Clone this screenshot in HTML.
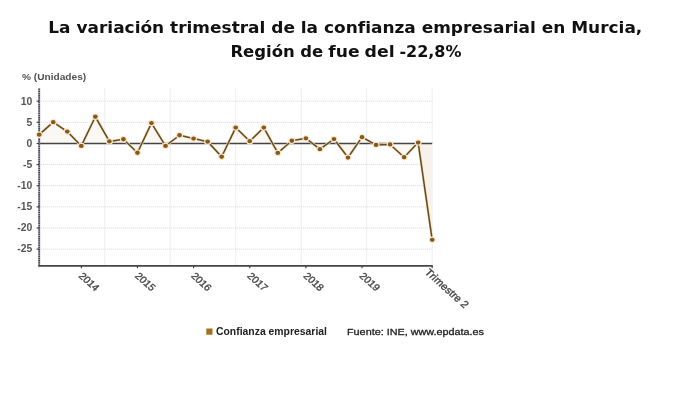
<!DOCTYPE html>
<html lang="es"><head><meta charset="utf-8"><title>Confianza empresarial</title>
<style>
html,body{margin:0;padding:0;background:#fff;}
body{width:690px;height:406px;overflow:hidden;position:relative;font-family:"Liberation Sans",sans-serif;}
svg{position:absolute;left:0;top:0;display:block}
text{font-family:"Liberation Sans",sans-serif;}
.title{font-family:"DejaVu Sans","Liberation Sans",sans-serif;font-weight:bold;font-size:15.8px;fill:#111;}
.yl{font-size:10px;fill:#565656;font-weight:bold}
.xl{font-size:9.6px;fill:#444;stroke:#444;stroke-width:0.33px}
.unit{font-size:9.9px;fill:#525252;font-weight:bold}
.leg{font-size:10px;fill:#222;font-weight:bold}
.src{font-size:9.9px;fill:#222;stroke:#222;stroke-width:0.3px}
</style></head><body>
<svg width="690" height="406" viewBox="0 0 690 406">
<rect width="690" height="406" fill="#fff"/>

<text class="title" x="48.3" y="32.6" textLength="594" lengthAdjust="spacingAndGlyphs">La variación trimestral de la confianza empresarial en Murcia,</text>
<text class="title" y="57.0"><tspan x="230.4" textLength="64.4" lengthAdjust="spacingAndGlyphs">Región</tspan> <tspan x="300.3" textLength="22.9" lengthAdjust="spacingAndGlyphs">de</tspan> <tspan x="328.3" textLength="31.3" lengthAdjust="spacingAndGlyphs">fue</tspan> <tspan x="364.6" textLength="30" lengthAdjust="spacingAndGlyphs">del</tspan> <tspan x="399.4" textLength="62.1" lengthAdjust="spacingAndGlyphs">-22,8%</tspan></text>
<text class="unit" x="22" y="79.6" textLength="64.2" lengthAdjust="spacingAndGlyphs">% (Unidades)</text>
<line x1="104.7" y1="88.5" x2="104.7" y2="265.8" stroke="#dcdce1" stroke-width="1" stroke-dasharray="1,1"/>
<line x1="170.2" y1="88.5" x2="170.2" y2="265.8" stroke="#dcdce1" stroke-width="1" stroke-dasharray="1,1"/>
<line x1="235.7" y1="88.5" x2="235.7" y2="265.8" stroke="#dcdce1" stroke-width="1" stroke-dasharray="1,1"/>
<line x1="301.2" y1="88.5" x2="301.2" y2="265.8" stroke="#dcdce1" stroke-width="1" stroke-dasharray="1,1"/>
<line x1="366.7" y1="88.5" x2="366.7" y2="265.8" stroke="#dcdce1" stroke-width="1" stroke-dasharray="1,1"/>
<line x1="432.2" y1="88.5" x2="432.2" y2="265.8" stroke="#dcdce1" stroke-width="1" stroke-dasharray="1,1"/>
<line x1="39.2" y1="101.19" x2="432.2" y2="101.19" stroke="#d6d6da" stroke-width="1" stroke-dasharray="1,1"/>
<line x1="39.2" y1="122.32" x2="432.2" y2="122.32" stroke="#d6d6da" stroke-width="1" stroke-dasharray="1,1"/>
<line x1="39.2" y1="164.58" x2="432.2" y2="164.58" stroke="#d6d6da" stroke-width="1" stroke-dasharray="1,1"/>
<line x1="39.2" y1="185.71" x2="432.2" y2="185.71" stroke="#d6d6da" stroke-width="1" stroke-dasharray="1,1"/>
<line x1="39.2" y1="206.84" x2="432.2" y2="206.84" stroke="#d6d6da" stroke-width="1" stroke-dasharray="1,1"/>
<line x1="39.2" y1="227.97" x2="432.2" y2="227.97" stroke="#d6d6da" stroke-width="1" stroke-dasharray="1,1"/>
<line x1="39.2" y1="249.1" x2="432.2" y2="249.1" stroke="#d6d6da" stroke-width="1" stroke-dasharray="1,1"/>
<polygon points="39.2,143.45 39.2,134.65 53.24,122.15 67.27,131.55 81.31,145.95 95.34,116.75 109.38,141.45 123.41,139.25 137.45,152.75 151.49,123.05 165.52,145.95 179.56,135.25 193.59,138.55 207.63,141.65 221.66,156.75 235.7,127.55 249.74,141.2 263.77,127.55 277.81,152.95 291.84,140.75 305.88,138.35 319.91,149.15 333.95,139.05 347.99,157.55 362.02,137.15 376.06,144.95 390.09,144.45 404.13,157.25 418.16,142.55 432.2,239.85 432.2,143.45" fill="#fbf8f4"/>
<polygon points="418.16,143.45 418.16,142.55 432.2,239.85 432.2,143.45" fill="#f8f2ec"/>
<line x1="39.2" y1="143.45" x2="432.2" y2="143.45" stroke="#444" stroke-width="1.6"/>
<line x1="39.2" y1="88.5" x2="39.2" y2="266.6" stroke="#9a9ea8" stroke-width="1.8"/>
<line x1="39.2" y1="88.5" x2="39.2" y2="266.6" stroke="#474b58" stroke-width="1.8" stroke-dasharray="1.3,0.9"/>
<line x1="38.3" y1="265.8" x2="432.7" y2="265.8" stroke="#464646" stroke-width="1.8"/>
<line x1="36.6" y1="101.19" x2="39.2" y2="101.19" stroke="#444" stroke-width="1.2"/>
<text class="yl" transform="translate(32.3,104.54) scale(1.04,1)" text-anchor="end">10</text>
<line x1="36.6" y1="122.32" x2="39.2" y2="122.32" stroke="#444" stroke-width="1.2"/>
<text class="yl" transform="translate(32.3,125.67) scale(1.04,1)" text-anchor="end">5</text>
<line x1="36.6" y1="143.45" x2="39.2" y2="143.45" stroke="#444" stroke-width="1.2"/>
<text class="yl" transform="translate(32.3,146.8) scale(1.04,1)" text-anchor="end">0</text>
<line x1="36.6" y1="164.58" x2="39.2" y2="164.58" stroke="#444" stroke-width="1.2"/>
<text class="yl" transform="translate(32.3,167.93) scale(1.04,1)" text-anchor="end">-5</text>
<line x1="36.6" y1="185.71" x2="39.2" y2="185.71" stroke="#444" stroke-width="1.2"/>
<text class="yl" transform="translate(32.3,189.06) scale(1.04,1)" text-anchor="end">-10</text>
<line x1="36.6" y1="206.84" x2="39.2" y2="206.84" stroke="#444" stroke-width="1.2"/>
<text class="yl" transform="translate(32.3,210.19) scale(1.04,1)" text-anchor="end">-15</text>
<line x1="36.6" y1="227.97" x2="39.2" y2="227.97" stroke="#444" stroke-width="1.2"/>
<text class="yl" transform="translate(32.3,231.32) scale(1.04,1)" text-anchor="end">-20</text>
<line x1="36.6" y1="249.1" x2="39.2" y2="249.1" stroke="#444" stroke-width="1.2"/>
<text class="yl" transform="translate(32.3,252.45) scale(1.04,1)" text-anchor="end">-25</text>
<line x1="81.31" y1="265.8" x2="81.31" y2="268.2" stroke="#444" stroke-width="1.2"/>
<text class="xl" transform="translate(78.11,276.5) scale(1.12,1) rotate(45)">2014</text>
<line x1="137.45" y1="265.8" x2="137.45" y2="268.2" stroke="#444" stroke-width="1.2"/>
<text class="xl" transform="translate(134.25,276.5) scale(1.12,1) rotate(45)">2015</text>
<line x1="193.59" y1="265.8" x2="193.59" y2="268.2" stroke="#444" stroke-width="1.2"/>
<text class="xl" transform="translate(190.39,276.5) scale(1.12,1) rotate(45)">2016</text>
<line x1="249.74" y1="265.8" x2="249.74" y2="268.2" stroke="#444" stroke-width="1.2"/>
<text class="xl" transform="translate(246.54,276.5) scale(1.12,1) rotate(45)">2017</text>
<line x1="305.88" y1="265.8" x2="305.88" y2="268.2" stroke="#444" stroke-width="1.2"/>
<text class="xl" transform="translate(302.68,276.5) scale(1.12,1) rotate(45)">2018</text>
<line x1="362.02" y1="265.8" x2="362.02" y2="268.2" stroke="#444" stroke-width="1.2"/>
<text class="xl" transform="translate(358.82,276.5) scale(1.12,1) rotate(45)">2019</text>
<line x1="432.2" y1="265.8" x2="432.2" y2="268.2" stroke="#444" stroke-width="1.2"/>
<text class="xl" style="font-size:10.1px" transform="translate(424.1,272.90000000000003) scale(1.12,1) rotate(45)">Trimestre 2</text>
<polyline points="39.2,134.65 53.24,122.15 67.27,131.55 81.31,145.95 95.34,116.75 109.38,141.45 123.41,139.25 137.45,152.75 151.49,123.05 165.52,145.95 179.56,135.25 193.59,138.55 207.63,141.65 221.66,156.75 235.7,127.55 249.74,141.2 263.77,127.55 277.81,152.95 291.84,140.75 305.88,138.35 319.91,149.15 333.95,139.05 347.99,157.55 362.02,137.15 376.06,144.95 390.09,144.45 404.13,157.25 418.16,142.55 432.2,239.85" fill="none" stroke="#f6e2c0" stroke-width="2.8" stroke-linejoin="round"/>
<polyline points="39.2,134.65 53.24,122.15 67.27,131.55 81.31,145.95 95.34,116.75 109.38,141.45 123.41,139.25 137.45,152.75 151.49,123.05 165.52,145.95 179.56,135.25 193.59,138.55 207.63,141.65 221.66,156.75 235.7,127.55 249.74,141.2 263.77,127.55 277.81,152.95 291.84,140.75 305.88,138.35 319.91,149.15 333.95,139.05 347.99,157.55 362.02,137.15 376.06,144.95 390.09,144.45 404.13,157.25 418.16,142.55 432.2,239.85" fill="none" stroke="#664c24" stroke-width="1.55" stroke-linejoin="round"/>
<ellipse cx="39.2" cy="134.65" rx="2.95" ry="2.7" fill="#88591c" stroke="#fbebd3" stroke-width="1.1"/>
<ellipse cx="53.24" cy="122.15" rx="2.95" ry="2.7" fill="#88591c" stroke="#fbebd3" stroke-width="1.1"/>
<ellipse cx="67.27" cy="131.55" rx="2.95" ry="2.7" fill="#88591c" stroke="#fbebd3" stroke-width="1.1"/>
<ellipse cx="81.31" cy="145.95" rx="2.95" ry="2.7" fill="#88591c" stroke="#fbebd3" stroke-width="1.1"/>
<ellipse cx="95.34" cy="116.75" rx="2.95" ry="2.7" fill="#88591c" stroke="#fbebd3" stroke-width="1.1"/>
<ellipse cx="109.38" cy="141.45" rx="2.95" ry="2.7" fill="#88591c" stroke="#fbebd3" stroke-width="1.1"/>
<ellipse cx="123.41" cy="139.25" rx="2.95" ry="2.7" fill="#88591c" stroke="#fbebd3" stroke-width="1.1"/>
<ellipse cx="137.45" cy="152.75" rx="2.95" ry="2.7" fill="#88591c" stroke="#fbebd3" stroke-width="1.1"/>
<ellipse cx="151.49" cy="123.05" rx="2.95" ry="2.7" fill="#88591c" stroke="#fbebd3" stroke-width="1.1"/>
<ellipse cx="165.52" cy="145.95" rx="2.95" ry="2.7" fill="#88591c" stroke="#fbebd3" stroke-width="1.1"/>
<ellipse cx="179.56" cy="135.25" rx="2.95" ry="2.7" fill="#88591c" stroke="#fbebd3" stroke-width="1.1"/>
<ellipse cx="193.59" cy="138.55" rx="2.95" ry="2.7" fill="#88591c" stroke="#fbebd3" stroke-width="1.1"/>
<ellipse cx="207.63" cy="141.65" rx="2.95" ry="2.7" fill="#88591c" stroke="#fbebd3" stroke-width="1.1"/>
<ellipse cx="221.66" cy="156.75" rx="2.95" ry="2.7" fill="#88591c" stroke="#fbebd3" stroke-width="1.1"/>
<ellipse cx="235.7" cy="127.55" rx="2.95" ry="2.7" fill="#88591c" stroke="#fbebd3" stroke-width="1.1"/>
<ellipse cx="249.74" cy="141.2" rx="2.95" ry="2.7" fill="#88591c" stroke="#fbebd3" stroke-width="1.1"/>
<ellipse cx="263.77" cy="127.55" rx="2.95" ry="2.7" fill="#88591c" stroke="#fbebd3" stroke-width="1.1"/>
<ellipse cx="277.81" cy="152.95" rx="2.95" ry="2.7" fill="#88591c" stroke="#fbebd3" stroke-width="1.1"/>
<ellipse cx="291.84" cy="140.75" rx="2.95" ry="2.7" fill="#88591c" stroke="#fbebd3" stroke-width="1.1"/>
<ellipse cx="305.88" cy="138.35" rx="2.95" ry="2.7" fill="#88591c" stroke="#fbebd3" stroke-width="1.1"/>
<ellipse cx="319.91" cy="149.15" rx="2.95" ry="2.7" fill="#88591c" stroke="#fbebd3" stroke-width="1.1"/>
<ellipse cx="333.95" cy="139.05" rx="2.95" ry="2.7" fill="#88591c" stroke="#fbebd3" stroke-width="1.1"/>
<ellipse cx="347.99" cy="157.55" rx="2.95" ry="2.7" fill="#88591c" stroke="#fbebd3" stroke-width="1.1"/>
<ellipse cx="362.02" cy="137.15" rx="2.95" ry="2.7" fill="#88591c" stroke="#fbebd3" stroke-width="1.1"/>
<ellipse cx="376.06" cy="144.95" rx="2.95" ry="2.7" fill="#88591c" stroke="#fbebd3" stroke-width="1.1"/>
<ellipse cx="390.09" cy="144.45" rx="2.95" ry="2.7" fill="#88591c" stroke="#fbebd3" stroke-width="1.1"/>
<ellipse cx="404.13" cy="157.25" rx="2.95" ry="2.7" fill="#88591c" stroke="#fbebd3" stroke-width="1.1"/>
<ellipse cx="418.16" cy="142.55" rx="2.95" ry="2.7" fill="#88591c" stroke="#fbebd3" stroke-width="1.1"/>
<ellipse cx="432.2" cy="239.85" rx="2.95" ry="2.7" fill="#88591c" stroke="#fbebd3" stroke-width="1.1"/>
<rect x="206.3" y="328.5" width="6.2" height="6.2" fill="#a5701d"/>
<text class="leg" x="216" y="335" textLength="111" lengthAdjust="spacingAndGlyphs">Confianza empresarial</text>
<text class="src" x="347" y="334.6" textLength="137" lengthAdjust="spacingAndGlyphs">Fuente: INE, www.epdata.es</text>
</svg></body></html>
